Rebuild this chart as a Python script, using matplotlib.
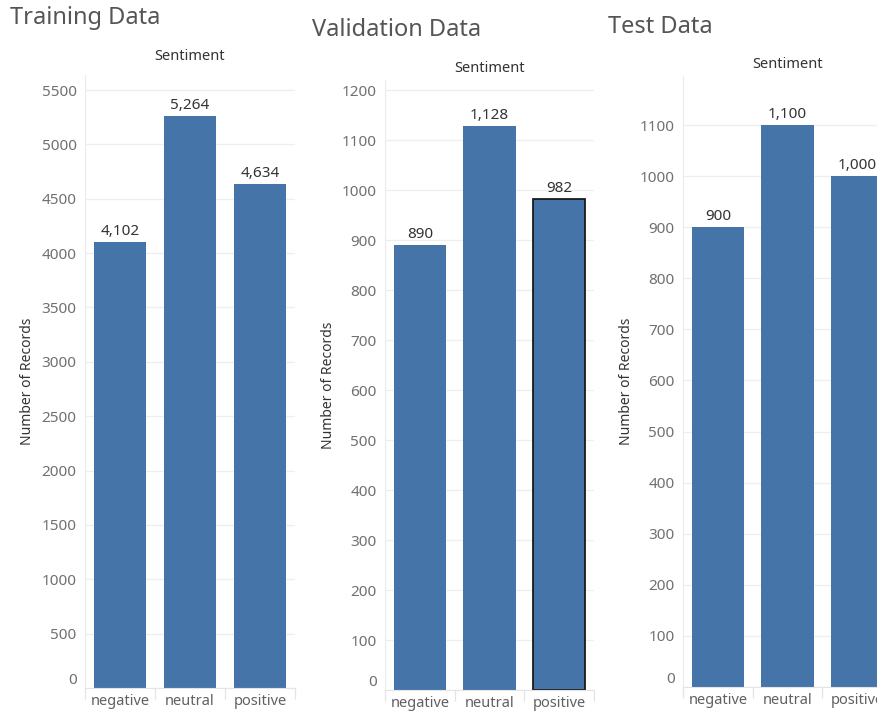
import numpy as np
import matplotlib
matplotlib.use('Agg')
import matplotlib.pyplot as plt

plt.rcParams['font.family'] = ['Noto Sans', 'DejaVu Sans']

# Data
categories = ['negative', 'neutral', 'positive']
train_counts = [4102, 5264, 4634]
val_counts = [890, 1128, 982]
test_counts = [900, 1100, 1000]

titles = ['Training Data', 'Validation Data', 'Test Data']
train_ticks = np.arange(0, 5501, 500)
val_ticks = np.arange(0, 1201, 100)
test_ticks = np.arange(0, 1101, 100)

bar_color = '#4575a8'
grid_color = '#eeeeee'
W, H = 877, 715

fig = plt.figure(figsize=(W / 100, H / 100), dpi=100)

# panel layout in pixels: left, right, top, bottom, ymax, title (x, y), header y
panels = [
    dict(vals=train_counts, ticks=train_ticks, box=(85, 295, 75, 688), ymax=5638,
         title_xy=(10, 18), head_y=57),
    dict(vals=val_counts, ticks=val_ticks, box=(385, 594, 80, 690), ymax=1220,
         title_xy=(312, 30), head_y=68),
    dict(vals=test_counts, ticks=test_ticks, box=(683, 892, 76, 687), ymax=1196,
         title_xy=(608, 27), head_y=65),
]

for i, p in enumerate(panels):
    l, r, t, b = p['box']
    ax = fig.add_axes([l / W, 1 - b / H, (r - l) / W, (b - t) / H])
    x = np.arange(len(categories))
    bars = ax.bar(x, p['vals'], width=0.75, color=bar_color, zorder=2)
    if i == 1:
        bars[2].set_edgecolor('#1a1a1a')
        bars[2].set_linewidth(1.3)

    for xi, v in zip(x, p['vals']):
        ax.annotate(f'{v:,}', (xi, v), xytext=(0, 2), textcoords='offset points',
                    ha='center', va='bottom', fontsize=11, color='#333333')

    ax.set_xlim(-0.5, 2.5)
    ax.set_ylim(0, p['ymax'])
    ax.set_yticks(p['ticks'])
    ax.set_yticklabels([str(v) for v in p['ticks']])
    ax.yaxis.get_ticklabels()[0].set_va('bottom')
    ax.tick_params(axis='y', length=0, pad=6, labelsize=11, labelcolor='#707070')
    ax.grid(axis='y', color=grid_color, linewidth=0.9, zorder=0)

    ax.set_xticks(x)
    ax.set_xticklabels(categories)
    ax.tick_params(axis='x', length=0, pad=4, labelsize=10.5, labelcolor='#606060')
    ax.set_xticks([-0.5, 0.5, 1.5, 2.5], minor=True)
    ax.tick_params(axis='x', which='minor', length=8, color='#e4e4e4', width=0.9)

    for s in ['top', 'right']:
        ax.spines[s].set_visible(False)
    ax.spines['left'].set_color('#ececec')
    ax.spines['bottom'].set_color('#e4e4e4')

    tx, ty = p['title_xy']
    fig.text(tx / W, 1 - ty / H, titles[i], fontsize=17, color='#555555',
             ha='left', va='center')
    fig.text((l + r) / 2 / W, 1 - p['head_y'] / H, 'Sentiment', fontsize=10.5,
             fontweight='bold', color='#333333', ha='center', va='center')
    fig.text((l - 57) / W, 1 - (t + b) / 2 / H, 'Number of Records', fontsize=10,
             color='#333333', rotation=90, ha='center', va='center')

fig.savefig('out.png', dpi=100)
